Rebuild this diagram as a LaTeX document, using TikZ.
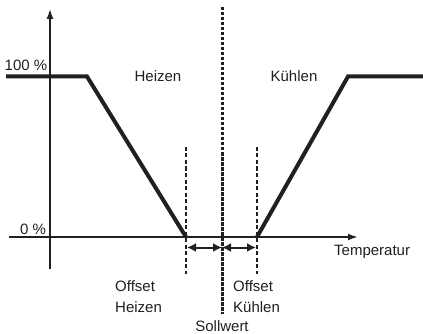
\documentclass[tikz,border=0pt]{standalone}
\usepackage{xcolor}
\usepackage{fontspec}
\setmainfont{Liberation Sans}
\usetikzlibrary{
arrows.meta,
positioning
}
\definecolor{ink}{HTML}{231F20}

\begin{document}
\begin{tikzpicture}[
x=1pt, y=-1pt,
font=\fontsize{15}{21}\selectfont,
lbl/.style={inner sep=0pt, text=ink},
curve/.style={draw=ink, line width=4pt},
axis/.style={draw=ink, -{Latex[length=10pt,width=7pt]}},
offsetline/.style={draw=ink, line width=1.7pt, dash pattern=on 4pt off 2.5pt},
setline/.style={draw=ink, line width=3pt, dash pattern=on 3.5pt off 1.5pt},
span/.style={draw=ink, line width=2pt, {Latex[length=9pt,width=9pt]}-{Latex[length=9pt,width=9pt]}}
]
\useasboundingbox (0,0) rectangle (423,334);

% axes
\coordinate (ybot) at (50,269);
\coordinate (ytop) at (50,9);
\coordinate (xleft) at (9,237);
\coordinate (xright) at (358,237);
\draw[axis, line width=1.4pt] (ybot) -- (ytop);
\draw[axis, line width=2.6pt] (xleft) -- (xright);

% characteristic
\coordinate (hstart) at (6,76.5);
\coordinate (hknee) at (87,76.5);
\coordinate (hzero) at (186,237);
\coordinate (kzero) at (257,237);
\coordinate (kknee) at (348,76.5);
\coordinate (kend) at (423,76.5);
\draw[curve] (hstart) -- (hknee) -- (hzero);
\draw[curve] (kzero) -- (kknee) -- (kend);

% set point and offsets
\coordinate (settop) at (222,7);
\coordinate (setbot) at (222,314);
\coordinate (hofftop) at (186,147);
\coordinate (hoffbot) at (186,274);
\coordinate (kofftop) at (257,147);
\coordinate (koffbot) at (257,274);
\draw[setline] (settop) -- (setbot);
\draw[offsetline] (hofftop) -- (hoffbot);
\draw[offsetline] (kofftop) -- (koffbot);

\coordinate (harr) at (187,247.5);
\coordinate (marr) at (222,247.5);
\coordinate (karr) at (256,247.5);
\draw[span] (harr) -- (marr);
\draw[span] (marr) -- (karr);

% labels
\node[lbl] (full) at (26,65) {100 \%};
\node[lbl] (zero) at (33,229) {0 \%};
\node[lbl] (heizen) at (158,76) {Heizen};
\node[lbl] (kuehlen) at (294,76) {Kühlen};
\node[lbl, anchor=west] (temp) at (334,252) {Temperatur};
\node[lbl, align=left, anchor=north west] (offh) at (115,280) {Offset\\Heizen};
\node[lbl, align=left, anchor=north west] (offk) at (233,280) {Offset\\Kühlen};
\node[lbl] (soll) at (222,326) {Sollwert};

\end{tikzpicture}
\end{document}
